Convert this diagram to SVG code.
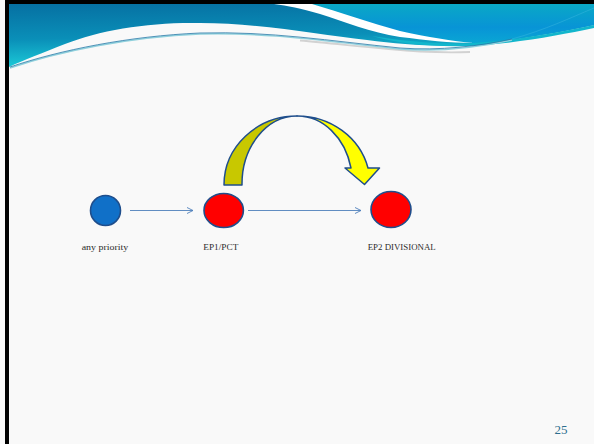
<svg xmlns="http://www.w3.org/2000/svg" width="594" height="444" viewBox="0 0 594 444">
  <defs>
    <linearGradient id="bannerMain" x1="0" y1="0" x2="0.15" y2="1">
      <stop offset="0" stop-color="#0670a2"/>
      <stop offset="0.55" stop-color="#0a8fb8"/>
      <stop offset="1" stop-color="#1ccbd8"/>
    </linearGradient>
    <linearGradient id="bannerRight" x1="0" y1="0" x2="0" y2="1">
      <stop offset="0" stop-color="#0aa8c6"/>
      <stop offset="0.6" stop-color="#0894d6"/>
      <stop offset="1" stop-color="#0aa6d4"/>
    </linearGradient>
    <marker id="chevron" viewBox="0 0 8 8" refX="7.5" refY="4" markerWidth="8" markerHeight="8" markerUnits="userSpaceOnUse" orient="auto">
      <path d="M1.5,1 L7.5,4 L1.5,7" fill="none" stroke="#4f80bb" stroke-width="0.9"/>
    </marker>
    <style>
      .label { font-family: "Liberation Serif", "DejaVu Serif", serif; font-size: 9px; fill: #2b2b2b; }
      .pageno { font-family: "Liberation Serif", "DejaVu Serif", serif; font-size: 13px; fill: #2d6e8e; }
      .conn { fill: none; stroke: #4f80bb; stroke-width: 0.9; }
      .node-red { fill: #ff0000; stroke: #1f4e8c; stroke-width: 1.6; }
      .node-blue { fill: #1070c8; stroke: #1f4e8c; stroke-width: 1.6; }
      .bend { stroke: #1f4e8c; stroke-width: 1.5; stroke-linejoin: round; }
    </style>
  </defs>

  <!-- page background -->
  <rect x="0" y="0" width="594" height="444" fill="#f9f9f9"/>

  <!-- header wave -->
  <g id="header">
    <path d="M9,4 H594 V25 C560,32 520,40 470,45 C430,47 400,44 367,40 C320,35 260,23 200,23 C150,22 100,30 65,44 C42,53 24,60 9,67 Z" fill="url(#bannerMain)"/>
    <path d="M300,4 H594 V25 C560,32 520,40 474,43 C450,41 425,37 400,32 C360,22 330,10 310,4 Z" fill="url(#bannerRight)"/>
    <path d="M372,36 C405,41 440,45 474,43 C520,40 560,32 594,25 L594,28 C560,35 520,43 470,46 C430,47 400,44 372,36 Z" fill="#12b6cc"/>
    <path d="M274,4 L312,4 C340,12 370,23 400,31 C428,37 452,41 474,43 C450,43 425,40 400,37 C370,32 345,22 320,14 C300,8 288,6 274,4 Z" fill="#ffffff"/>
    <!-- swoosh line under the wave, with its soft grey shadow -->
    <path d="M300,40.5 C340,44 380,49 420,51.5 C440,52.5 455,52.5 470,52" fill="none" stroke="#d2d2d2" stroke-width="1.8"/>
    <path d="M10,68 C60,51 130,37 200,34 C270,32 330,42 400,49 C440,52 480,47 512,40" fill="none" stroke="#8fd0dc" stroke-width="1.4"/>
    <path d="M10,67 C60,50 130,36 200,33 C270,31 330,41 400,48 C440,51 480,46 512,39" fill="none" stroke="#2a7aa8" stroke-width="0.8"/>
    <path d="M512,39 C545,30 570,18 594,8" fill="none" stroke="#3ab8e0" stroke-width="0.8" opacity="0.6"/>
  </g>

  <!-- frame -->
  <rect x="5" y="0" width="4" height="444" fill="#000000"/>
  <rect x="5" y="0" width="589" height="4" fill="#000000"/>

  <!-- connectors -->
  <g id="connectors">
    <path class="conn" d="M130,210.5 H193" marker-end="url(#chevron)"/>
    <path class="conn" d="M248,210.5 H361" marker-end="url(#chevron)"/>
    <g id="bent-arrow">
      <path class="bend" fill="#c8c800" d="M224,185 A73,69 0 0 1 297,116 A55,68 0 0 0 242,185 Z"/>
      <path class="bend" fill="#ffff00" d="M297,116 A73,69 0 0 1 368,168 L379.5,168 L364.5,184.5 L345,168 L351,168 A55,68 0 0 0 297,116 Z"/>
    </g>
  </g>

  <!-- nodes -->
  <g id="node-any-priority">
    <circle class="node-blue" cx="105.5" cy="210.5" r="15"/>
    <text class="label" x="81.7" y="250" textLength="46.6" lengthAdjust="spacingAndGlyphs">any priority</text>
  </g>
  <g id="node-ep1-pct">
    <ellipse class="node-red" cx="223.7" cy="210.5" rx="19.7" ry="17"/>
    <text class="label" x="203.3" y="250" textLength="35" lengthAdjust="spacingAndGlyphs">EP1/PCT</text>
  </g>
  <g id="node-ep2-divisional">
    <ellipse class="node-red" cx="391" cy="209.5" rx="20" ry="18"/>
    <text class="label" x="367.7" y="250" textLength="68" lengthAdjust="spacingAndGlyphs">EP2 DIVISIONAL</text>
  </g>

  <!-- slide number -->
  <text class="pageno" x="554.5" y="434">25</text>
</svg>
